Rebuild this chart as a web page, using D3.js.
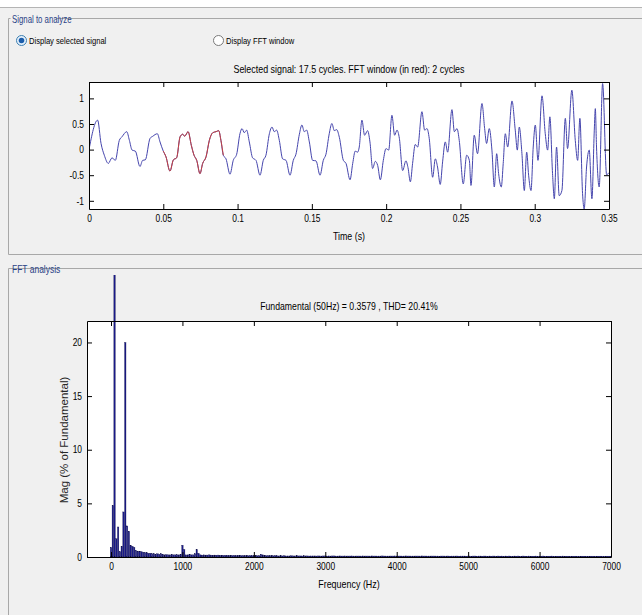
<!DOCTYPE html>
<html>
<head>
<meta charset="utf-8">
<script src="https://cdn.jsdelivr.net/npm/d3@7"></script>
<style>
  body { margin: 0; background: #f0f0f0; }
  text { font-family: "Liberation Sans", Arial, sans-serif; fill: #000; }
</style>
</head>
<body>
<div id="chart"></div>
<script>
// ---- signal (time domain), vertices ----
const sigTime = [
  0, 0.0058, 0.0081, 0.0103, 0.0130, 0.0155, 0.0177, 0.0204, 0.0222, 0.0254,
  0.0272, 0.0290, 0.0312, 0.0343, 0.0361, 0.0379, 0.0411, 0.0429, 0.0460, 0.0478,
  0.0500, 0.0518, 0.0545, 0.0568, 0.0590, 0.0613, 0.0631, 0.0644, 0.0667, 0.0689,
  0.0707, 0.0725, 0.0747, 0.0765, 0.0788, 0.0810, 0.0833, 0.0855, 0.0873, 0.0888,
  0.0904, 0.0922, 0.0949, 0.0971, 0.0994, 0.1016, 0.1030, 0.1045, 0.1061, 0.1079,
  0.1101, 0.1124, 0.1151, 0.1173, 0.1191, 0.1214, 0.1232, 0.1247, 0.1263, 0.1281,
  0.1303, 0.1326, 0.1353, 0.1375, 0.1393, 0.1416, 0.1433, 0.1449, 0.1465, 0.1483,
  0.1505, 0.1528, 0.1555, 0.1577, 0.1595, 0.1617, 0.1635, 0.1651, 0.1667, 0.1685,
  0.1712, 0.1730, 0.1757, 0.1775, 0.1792, 0.1808, 0.1819, 0.1837, 0.1855, 0.1875,
  0.1891, 0.1909, 0.1927, 0.1943, 0.1961, 0.1981, 0.1999, 0.2017, 0.2039, 0.2057,
  0.2073, 0.2089, 0.2111, 0.2133, 0.2147, 0.2163, 0.2178, 0.2196, 0.2212, 0.2241,
  0.2259, 0.2275, 0.2290, 0.2313, 0.2331, 0.2346, 0.2364, 0.2380, 0.2398, 0.2414,
  0.2443, 0.2459, 0.2477, 0.2492, 0.2519, 0.2542, 0.2560, 0.2571, 0.2593, 0.2615,
  0.2645, 0.2663, 0.2676, 0.2694, 0.2712, 0.2728, 0.2744, 0.2757, 0.2775, 0.2788,
  0.2802, 0.2818, 0.2847, 0.2869, 0.2883, 0.2896, 0.2914, 0.2930, 0.2946, 0.2959,
  0.2975, 0.2990, 0.3004, 0.3022, 0.3049, 0.3071, 0.3087, 0.3102, 0.3120, 0.3132,
  0.3147, 0.3165, 0.3183, 0.3206, 0.3221, 0.3250, 0.3273, 0.3289, 0.3304, 0.3322,
  0.3333, 0.3349, 0.3367, 0.3385, 0.3401, 0.3408, 0.3416, 0.3434, 0.3457, 0.3484,
  0.3500
];
const sigValue = [
  0, 0.575, 0.12, -0.11, -0.27, -0.16, -0.21, 0.18, 0.25, 0.35,
  0.18, -0.01, -0.03, -0.33, -0.21, -0.20, 0.22, 0.26, 0.31, 0.15,
  -0.03, -0.14, -0.42, -0.20, -0.16, 0.25, 0.30, 0.26, 0.35, 0.08,
  -0.11, -0.21, -0.47, -0.27, -0.14, 0.18, 0.33, 0.35, 0.37, 0.18,
  -0.11, -0.18, -0.48, -0.21, -0.09, 0.31, 0.41, 0.33, 0.38, 0.15,
  -0.16, -0.21, -0.50, -0.21, -0.11, 0.31, 0.44, 0.35, 0.38, 0.18,
  -0.18, -0.21, -0.50, -0.21, -0.09, 0.30, 0.48, 0.35, 0.38, 0.15,
  -0.21, -0.22, -0.50, -0.21, -0.09, 0.31, 0.51, 0.37, 0.39, 0.24,
  -0.21, -0.27, -0.59, -0.27, -0.03, -0.05, 0.05, 0.575, 0.28, 0.37,
  0.15, -0.37, -0.23, -0.31, -0.59, -0.21, 0.02, -0.01, 0.67, 0.28,
  0.38, 0.22, -0.41, -0.22, -0.35, -0.63, -0.27, 0.10, 0.05, 0.74,
  0.38, 0.41, 0.22, -0.54, -0.18, -0.34, -0.68, -0.24, 0.15, -0.05,
  0.78, 0.35, 0.41, 0.18, -0.67, -0.11, -0.21, -0.70, 0.28, -0.08,
  0.90, 0.41, 0.12, 0.41, -0.01, -0.73, -0.08, -0.47, -0.73, -0.27,
  0.31, 0.05, 0.95, 0.38, -0.01, 0.44, -0.08, -0.80, -0.05, -0.50,
  -0.80, 0.05, 0.48, -0.21, 1.05, 0.31, -0.01, 0.64, -0.47, -0.96,
  0.05, -0.90, -0.80, 0.61, 0.02, 1.16, 0.18, -0.21, 0.61, -0.86,
  -1.16, -0.34, -0.01, -0.96, 0.38, 0.80, 0.05, -0.73, 1.29, -0.49,
  -0.45
];
const fftWindow = [0.05, 0.09];          // seconds, drawn in red
const timeTicks = [0, 0.05, 0.1, 0.15, 0.2, 0.25, 0.3, 0.35];
const sigTicks = [-1, -0.5, 0, 0.5, 1];

// ---- FFT magnitude (% of fundamental), one bar every 25 Hz from 0 Hz ----
const freqStep = 25;
const fftMag = [
  0.9, 4.8, 100, 1.7, 2.8, 0.5, 1.0, 4.2, 20, 2.9, 2.4, 1.1, 1.0, 0.9, 0.6, 0.55, 0.5, 0.5, 0.45, 0.4,
  0.4, 0.35, 0.35, 0.3, 0.3, 0.25, 0.3, 0.25, 0.3, 0.25, 0.2, 0.22, 0.2, 0.2, 0.22, 0.2, 0.2, 0.21, 0.2, 0.25,
  1.1, 0.7, 0.2, 0.2, 0.22, 0.2, 0.2, 0.3, 0.7, 0.35, 0.2, 0.18, 0.2, 0.18, 0.18, 0.2, 0.18, 0.17, 0.18, 0.17,
  0.18, 0.16, 0.17, 0.15, 0.15, 0.16, 0.14, 0.15, 0.14, 0.14, 0.13, 0.14, 0.13, 0.13, 0.12, 0.13, 0.12, 0.12, 0.12, 0.13,
  0.12, 0.11, 0.12, 0.11, 0.25, 0.2, 0.13, 0.12, 0.11, 0.12, 0.11, 0.11, 0.12, 0.11, 0.1, 0.11, 0.1, 0.11, 0.1, 0.1,
  0.1, 0.11, 0.1, 0.1, 0.11, 0.1, 0.1, 0.1, 0.11, 0.1, 0.1, 0.09, 0.1, 0.1, 0.1, 0.09, 0.1, 0.1, 0.09, 0.1,
  0.1, 0.09, 0.1, 0.09, 0.1, 0.1, 0.09, 0.09, 0.1, 0.09, 0.09, 0.1, 0.09, 0.09, 0.09, 0.1, 0.09, 0.09, 0.09, 0.09,
  0.09, 0.1, 0.09, 0.09, 0.09, 0.09, 0.1, 0.09, 0.09, 0.09, 0.09, 0.09, 0.1, 0.09, 0.09, 0.09, 0.09, 0.09, 0.09, 0.1,
  0.09, 0.09, 0.09, 0.09, 0.09, 0.1, 0.09, 0.09, 0.09, 0.09, 0.09, 0.09, 0.09, 0.09, 0.1, 0.09, 0.09, 0.09, 0.09, 0.09,
  0.09, 0.09, 0.09, 0.09, 0.08, 0.09, 0.09, 0.09, 0.09, 0.09, 0.08, 0.09, 0.09, 0.09, 0.09, 0.08, 0.09, 0.09, 0.09, 0.08,
  0.09, 0.09, 0.08, 0.09, 0.09, 0.08, 0.09, 0.09, 0.08, 0.09, 0.09, 0.08, 0.09, 0.08, 0.09, 0.09, 0.08, 0.09, 0.08, 0.09,
  0.08, 0.09, 0.08, 0.09, 0.08, 0.08, 0.09, 0.08, 0.09, 0.08, 0.08, 0.09, 0.08, 0.08, 0.09, 0.08, 0.08, 0.08, 0.09, 0.08,
  0.08, 0.08, 0.09, 0.08, 0.08, 0.08, 0.08, 0.09, 0.08, 0.08, 0.08, 0.08, 0.08, 0.09, 0.08, 0.08, 0.08, 0.08, 0.08, 0.08,
  0.08, 0.08, 0.08, 0.08, 0.08, 0.08, 0.08, 0.08, 0.08, 0.08, 0.08, 0.08, 0.08, 0.08, 0.08, 0.08, 0.08, 0.08, 0.08, 0.08,
  0.08
];
const freqTicks = [0, 1000, 2000, 3000, 4000, 5000, 6000, 7000];
const magTicks = [0, 5, 10, 15, 20];

const W = 642, H = 615;

const svg = d3.select('#chart')
  .append('svg')
  .attr('width', W)
  .attr('height', H);

// the GUI font is a condensed sans; squeeze Liberation Sans horizontally
function condense(sel, k) {
  sel.each(function () {
    const len = this.getComputedTextLength();
    if (len > 0) {
      d3.select(this).attr('textLength', len * k).attr('lengthAdjust', 'spacingAndGlyphs');
    }
  });
}

// window background + group frames
svg.append('rect').attr('width', W).attr('height', H).attr('fill', '#f0f0f0');
svg.append('rect').attr('width', W).attr('height', 7).attr('fill', '#ffffff');
svg.append('line').attr('x1', 0).attr('x2', W).attr('y1', 7.5).attr('y2', 7.5).attr('stroke', '#b4b4b4');

function frame(yTop, yBottom, label, k) {
  svg.append('path')
    .attr('d', `M${W},${yTop}H8.5V${yBottom}` + (yBottom < H ? `H${W}` : ''))
    .attr('fill', 'none')
    .attr('stroke', '#a8a8a8');
  const t = svg.append('text')
    .attr('x', 12).attr('y', yTop + 4)
    .style('font-size', '11px')
    .style('fill', '#2a4286')
    .text(label);
  condense(t, k);
  const w = t.node().getComputedTextLength() * k;
  svg.insert('rect', 'text')
    .attr('x', 10.5).attr('y', yTop - 6).attr('width', w + 3).attr('height', 12).attr('fill', '#f0f0f0');
}
frame(18.5, 254.5, 'Signal to analyze', 0.71);
frame(268.5, H + 5, 'FFT analysis', 0.77);

// radio buttons
function radio(cx, cy, on, label) {
  svg.append('circle').attr('cx', cx).attr('cy', cy).attr('r', 5)
    .attr('fill', on ? '#e4f0fb' : '#ffffff')
    .attr('stroke', on ? '#3c7fb1' : '#7a7a7a');
  if (on) {
    svg.append('circle').attr('cx', cx).attr('cy', cy).attr('r', 2.8).attr('fill', '#1b5dab');
  }
  const t = svg.append('text').attr('x', cx + 7.5).attr('y', cy + 3.5)
    .style('font-size', '9.5px')
    .text(label);
  condense(t, 0.8);
}
radio(21.5, 40.5, true, 'Display selected signal');
radio(218.5, 40.5, false, 'Display FFT window');

// ---------- upper axes: signal ----------
const boxA = { left: 89, right: 609, top: 82, bottom: 209 };

const x1 = d3.scaleLinear().domain([0, 0.35]).range([boxA.left, boxA.right]);
const y1 = d3.scaleLinear().domain([-1.16, 1.32]).range([boxA.bottom, boxA.top]);

svg.append('rect')
  .attr('x', boxA.left).attr('y', boxA.top)
  .attr('width', boxA.right - boxA.left).attr('height', boxA.bottom - boxA.top)
  .attr('fill', '#ffffff');

svg.append('clipPath').attr('id', 'clip-sig')
  .append('rect')
  .attr('x', boxA.left).attr('y', boxA.top)
  .attr('width', boxA.right - boxA.left).attr('height', boxA.bottom - boxA.top);

const sigPts = sigTime.map((t, i) => ({ t: t, v: sigValue[i] }));
const sigLine = d3.line()
  .x(d => x1(d.t))
  .y(d => y1(d.v))
  .curve(d3.curveMonotoneX);

svg.append('path')
  .datum(sigPts)
  .attr('clip-path', 'url(#clip-sig)')
  .attr('fill', 'none')
  .attr('stroke', '#4545ad')
  .attr('stroke-width', 1)
  .attr('d', sigLine);

svg.append('path')
  .datum(sigPts.filter(d => d.t >= fftWindow[0] - 1e-4 && d.t <= fftWindow[1] + 5e-4))
  .attr('fill', 'none')
  .attr('stroke', '#c8403c')
  .attr('stroke-width', 1)
  .attr('d', sigLine);

function numFmt(d) { return String(d); }

svg.append('g')
  .attr('transform', `translate(0,${boxA.bottom})`)
  .call(d3.axisBottom(x1).tickValues(timeTicks).tickFormat(numFmt).tickSizeInner(-5).tickSizeOuter(0).tickPadding(6));
svg.append('g')
  .attr('transform', `translate(0,${boxA.top})`)
  .call(d3.axisTop(x1).tickValues(timeTicks).tickFormat('').tickSizeInner(-5).tickSizeOuter(0));
svg.append('g')
  .attr('transform', `translate(${boxA.left},0)`)
  .call(d3.axisLeft(y1).tickValues(sigTicks).tickFormat(numFmt).tickSizeInner(-5).tickSizeOuter(0).tickPadding(5));
svg.append('g')
  .attr('transform', `translate(${boxA.right},0)`)
  .call(d3.axisRight(y1).tickValues(sigTicks).tickFormat('').tickSizeInner(-5).tickSizeOuter(0));

const titleA = svg.append('text')
  .attr('x', (boxA.left + boxA.right) / 2).attr('y', 73)
  .attr('text-anchor', 'middle')
  .style('font-size', '11px')
  .text('Selected signal: 17.5 cycles. FFT window (in red): 2 cycles');
condense(titleA, 0.81);

const xlabA = svg.append('text')
  .attr('x', (boxA.left + boxA.right) / 2).attr('y', 240)
  .attr('text-anchor', 'middle')
  .style('font-size', '10.5px')
  .text('Time (s)');
condense(xlabA, 0.84);

// ---------- lower axes: FFT ----------
const boxB = { left: 87, right: 611, top: 321, bottom: 557 };

const x2 = d3.scaleLinear().domain([-336, 7000]).range([boxB.left, boxB.right]);
const y2 = d3.scaleLinear().domain([0, 22]).range([boxB.bottom, boxB.top]);

svg.append('rect')
  .attr('x', boxB.left).attr('y', boxB.top)
  .attr('width', boxB.right - boxB.left).attr('height', boxB.bottom - boxB.top)
  .attr('fill', '#ffffff');

// the fundamental bar pokes out above the axes up into the panel
svg.append('clipPath').attr('id', 'clip-fft')
  .append('rect')
  .attr('x', boxB.left).attr('y', 275)
  .attr('width', boxB.right - boxB.left).attr('height', boxB.bottom - 275);

const fftData = fftMag.map((m, i) => ({ f: i * freqStep, m: m }));
const barHalf = freqStep * 0.4;

svg.append('g')
  .attr('clip-path', 'url(#clip-fft)')
  .selectAll('rect')
  .data(fftData)
  .enter()
  .append('rect')
  .attr('x', d => x2(d.f - barHalf))
  .attr('y', d => y2(d.m))
  .attr('width', d => x2(d.f + barHalf) - x2(d.f - barHalf))
  .attr('height', d => y2(0) - y2(d.m))
  .attr('fill', '#1a1a8a')
  .attr('stroke', '#0a0a40')
  .attr('stroke-width', 0.3);

svg.append('g')
  .attr('transform', `translate(0,${boxB.bottom})`)
  .call(d3.axisBottom(x2).tickValues(freqTicks).tickFormat(numFmt).tickSizeInner(-5).tickSizeOuter(0).tickPadding(6));
svg.append('g')
  .attr('transform', `translate(0,${boxB.top})`)
  .call(d3.axisTop(x2).tickValues(freqTicks).tickFormat('').tickSizeInner(-5).tickSizeOuter(0));
svg.append('g')
  .attr('transform', `translate(${boxB.left},0)`)
  .call(d3.axisLeft(y2).tickValues(magTicks).tickFormat(numFmt).tickSizeInner(-5).tickSizeOuter(0).tickPadding(5));
svg.append('g')
  .attr('transform', `translate(${boxB.right},0)`)
  .call(d3.axisRight(y2).tickValues(magTicks).tickFormat('').tickSizeInner(-5).tickSizeOuter(0));

const titleB = svg.append('text')
  .attr('x', (boxB.left + boxB.right) / 2).attr('y', 310)
  .attr('text-anchor', 'middle')
  .style('font-size', '11px')
  .text('Fundamental (50Hz) = 0.3579 , THD= 20.41%');
condense(titleB, 0.79);

const xlabB = svg.append('text')
  .attr('x', (boxB.left + boxB.right) / 2).attr('y', 588)
  .attr('text-anchor', 'middle')
  .style('font-size', '10.5px')
  .text('Frequency (Hz)');
condense(xlabB, 0.85);

svg.append('text')
  .attr('transform', `translate(68,${(boxB.top + boxB.bottom) / 2 + 1}) rotate(-90)`)
  .attr('text-anchor', 'middle')
  .style('font-size', '11.5px')
  .style('fill', '#262626')
  .text('Mag (% of Fundamental)');

// axis styling: MATLAB-like black box and labels
svg.selectAll('.domain').attr('stroke', '#000');
svg.selectAll('.tick line').attr('stroke', '#000');
svg.selectAll('.tick text')
  .style('font-family', '"Liberation Sans", Arial, sans-serif')
  .style('font-size', '10px')
  .attr('fill', '#000');
condense(svg.selectAll('.tick text'), 0.84);
</script>
</body>
</html>
